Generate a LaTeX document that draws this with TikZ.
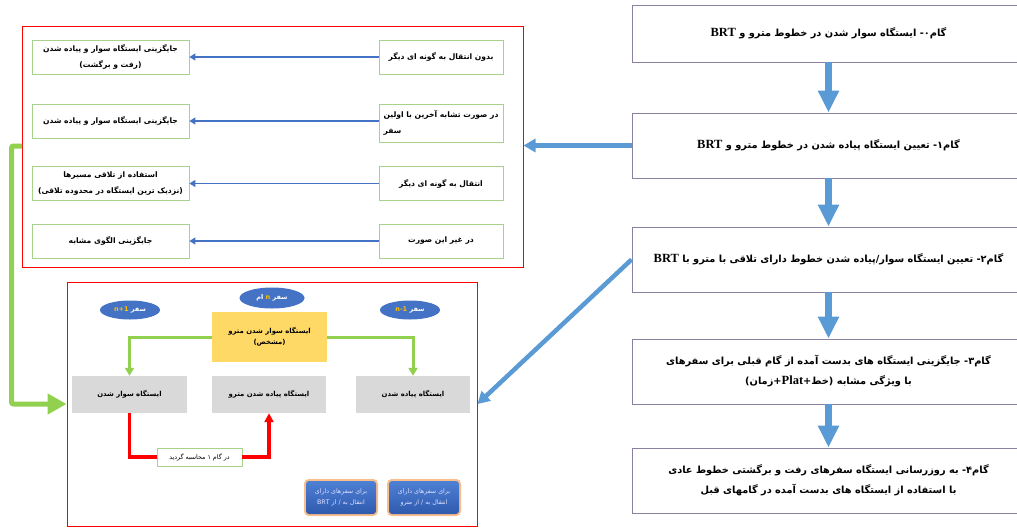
\documentclass[tikz,border=0pt]{standalone}
\usepackage{fontspec}
\usetikzlibrary{arrows.meta,shapes.geometric,calc}
\newfontfamily\fa[Script=Arabic]{DejaVu Sans}
\newfontfamily\latserif{Liberation Serif}
\TeXXeTstate=1
\newcommand\fatext[1]{\beginR#1\endR}
\newcommand\lat[1]{\beginL#1\endL}
\newcommand\bigL[1]{\lat{{\latserif\bfseries\fontsize{12.5}{12.5}\selectfont #1}}}
\definecolor{gamline}{RGB}{140,128,160}
\definecolor{bigblue}{RGB}{91,155,213}
\definecolor{thinblue}{RGB}{68,114,196}
\definecolor{lgreen}{RGB}{169,209,142}
\definecolor{tgreen}{RGB}{146,208,80}
\definecolor{yel}{RGB}{255,217,102}
\definecolor{grayb}{RGB}{217,217,217}
\definecolor{ora}{RGB}{255,192,0}
\definecolor{btntop}{RGB}{78,128,212}
\definecolor{btnbot}{RGB}{47,90,174}
\definecolor{glow}{RGB}{250,190,140}
\begin{document}
\begin{tikzpicture}[x=1pt,y=-1pt,
  gambox/.style={draw=gamline,line width=0.9pt,fill=white,inner sep=0pt,minimum width=393pt,minimum height=65pt,align=center,font=\fa\bfseries\fontsize{9.8}{20}\selectfont},
  optbox/.style={draw=lgreen,line width=0.8pt,fill=white,inner sep=0pt,align=center,font=\fa\bfseries\fontsize{7.6}{15.5}\selectfont},
  frame/.style={draw=red,line width=1pt,inner sep=0pt},
  bigarrow/.style={bigblue,line width=7pt,-{Triangle[width=20pt,length=22pt]}},
  sidearrow/.style={bigblue,line width=4.5pt,-{Triangle[width=13pt,length=12pt]}},
  thinarr/.style={thinblue,line width=1.4pt,-{Triangle[width=7pt,length=6pt]}},
  gthick/.style={tgreen,line width=5pt,rounded corners=2pt,-{Triangle[width=20pt,length=19pt]}},
  gsmall/.style={tgreen,line width=3pt,-{Triangle[width=9pt,length=8pt]}},
  rsmall/.style={red,line width=3.3pt,-{Triangle[width=9pt,length=9pt]}},
  trip/.style={ellipse,fill=thinblue,inner sep=0pt,text=white,font=\fa\bfseries\fontsize{6.5}{8}\selectfont},
  graybox/.style={fill=grayb,inner sep=0pt,minimum height=37pt,align=center,font=\fa\bfseries\fontsize{6.9}{10}\selectfont},
  labbox/.style={draw=lgreen,line width=0.8pt,fill=white,inner sep=0pt,font=\fa\fontsize{6.3}{8}\selectfont},
  btnbox/.style={rounded corners=3pt,top color=btntop,bottom color=btnbot,text=white!88!blue,inner sep=0pt,minimum width=70pt,minimum height=33pt,align=center,font=\fa\fontsize{6.3}{11}\selectfont,preaction={draw=glow,line width=4pt,rounded corners=4pt}}
]
\useasboundingbox (0,0) rectangle (1017,528);

% right column
\node[gambox,minimum height=57pt] (g0) at (828.5,33.5) {\fatext{گام۰- ایستگاه سوار شدن در خطوط مترو و \bigL{BRT}}};
\node[gambox] (g1) at (828.5,145.5) {\fatext{گام۱- تعیین ایستگاه پیاده شدن در خطوط مترو و \bigL{BRT}}};
\node[gambox] (g2) at (828.5,259.5) {\fatext{گام۲- تعیین ایستگاه سوار/پیاده شدن خطوط دارای تلاقی با مترو با \bigL{BRT}}};
\node[gambox] (g3) at (828.5,371.5) {\fatext{گام۳- جایگزینی ایستگاه های بدست آمده از گام قبلی برای سفرهای}\\\fatext{با ویژگی مشابه (خط+\bigL{Plat}+زمان)}};
\node[gambox] (g4) at (828.5,480.5) {\fatext{گام۴- به روزرسانی ایستگاه سفرهای رفت و برگشتی خطوط عادی}\\\fatext{با استفاده از ایستگاه های بدست آمده در گامهای قبل}};
\draw[bigarrow] (g0.south) -- (g1.north);
\draw[bigarrow] (g1.south) -- (g2.north);
\draw[bigarrow] (g2.south) -- (g3.north);
\draw[bigarrow] (g3.south) -- (g4.north);

% top-left frame
\node[frame,minimum width=501pt,minimum height=241pt] (tl) at (272.5,146.5) {};
\node[optbox,minimum width=124pt,minimum height=34pt] (o1r) at (441,57) {\fatext{بدون انتقال به گونه ای دیگر}};
\node[optbox,minimum width=157pt,minimum height=34pt] (o1l) at (110.5,57) {\fatext{جایگزینی ایستگاه سوار و پیاده شدن}\\\fatext{(رفت و برگشت)}};
\node[optbox,minimum width=124pt,minimum height=38pt,align=left] (o2r) at (441,123) {\fatext{در صورت تشابه آخرین با اولین}\\\fatext{سفر}};
\node[optbox,minimum width=157pt,minimum height=34pt] (o2l) at (110.5,121) {\fatext{جایگزینی ایستگاه سوار و پیاده شدن}};
\node[optbox,minimum width=124pt,minimum height=34pt] (o3r) at (441,183.5) {\fatext{انتقال به گونه ای دیگر}};
\node[optbox,minimum width=157pt,minimum height=34pt] (o3l) at (110.5,183.5) {\fatext{استفاده از تلاقی مسیرها}\\\fatext{(نزدیک ترین ایستگاه در محدوده تلاقی)}};
\node[optbox,minimum width=124pt,minimum height=34pt] (o4r) at (441,241) {\fatext{در غیر این صورت}};
\node[optbox,minimum width=157pt,minimum height=34pt] (o4l) at (110.5,241) {\fatext{جایگزینی الگوی مشابه}};
\draw[thinarr] (o1r.west) -- (o1l.east);
\draw[thinarr] (o2r.west |- o2l.east) -- (o2l.east);
\draw[thinarr] (o3r.west) -- (o3l.east);
\draw[thinarr] (o4r.west) -- (o4l.east);

% bottom-left frame
\node[frame,minimum width=410pt,minimum height=244pt] (bl) at (272,404) {};
\node[trip,minimum width=65pt,minimum height=21pt] (tn) at (272,298) {\fatext{سفر \lat{\textcolor{ora}{n}} ام}};
\node[trip,minimum width=60pt,minimum height=19pt] (tp) at (130,310) {\fatext{سفر \lat{\textcolor{ora}{n+1}}}};
\node[trip,minimum width=60pt,minimum height=19pt] (tm) at (410,310) {\fatext{سفر \lat{\textcolor{ora}{n-1}}}};
\node[fill=yel,inner sep=0pt,minimum width=115pt,minimum height=50pt,align=center,font=\fa\bfseries\fontsize{6.9}{11}\selectfont] (yc) at (269.5,337) {\fatext{ایستگاه سوار شدن مترو}\\\fatext{(مشخص)}};
\node[graybox,minimum width=115pt] (gl) at (129.5,394.5) {\fatext{ایستگاه سوار شدن}};
\node[graybox,minimum width=114pt] (gm) at (269,394.5) {\fatext{ایستگاه پیاده شدن مترو}};
\node[graybox,minimum width=114pt] (gr) at (413,394.5) {\fatext{ایستگاه پیاده شدن}};
\draw[gsmall] (yc.west) -| (gl.north);
\draw[gsmall] (yc.east) -| (gr.north);
\node[labbox,minimum width=85pt,minimum height=18pt] (lab) at (199.5,457) {\fatext{در گام ۱ محاسبه گردید}};
\draw[red,line width=3.3pt] (gl.south) |- (lab.west);
\draw[rsmall] (lab.east) -| (gm.south);
\node[btnbox] (b1) at (341,497.5) {\fatext{برای سفرهای دارای}\\\fatext{انتقال به / از \lat{BRT}}};
\node[btnbox] (b2) at (424,497.5) {\fatext{برای سفرهای دارای}\\\fatext{انتقال به / از مترو}};

% connectors between panels
\draw[sidearrow] (g1.west) -- (tl.east |- g1.west);
\draw[sidearrow] (g2.west) -- (bl.east);
\coordinate (gs) at (22,146);
\draw[gthick] (gs) -| ($(bl.west)+(-55,0)$) -- (bl.west);
\end{tikzpicture}
\end{document}
